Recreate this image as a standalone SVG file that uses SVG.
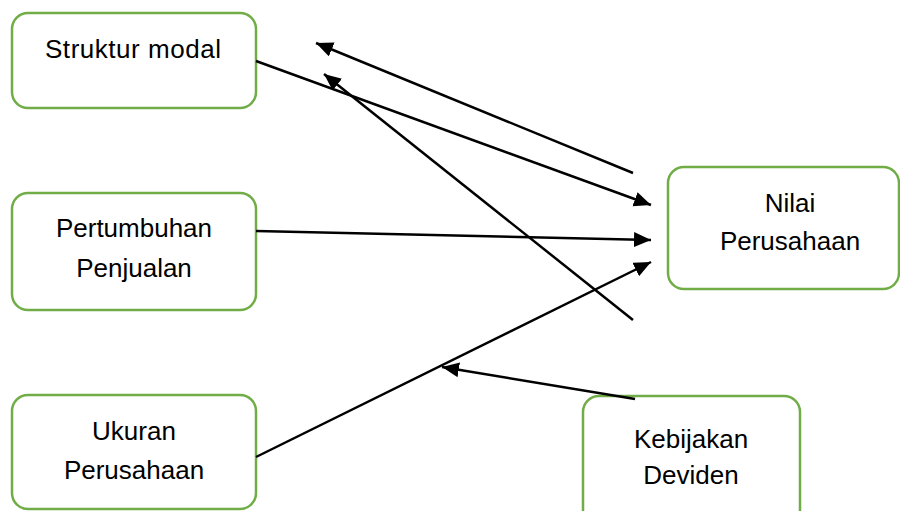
<svg xmlns="http://www.w3.org/2000/svg" width="900" height="511" viewBox="0 0 900 511">
<style>
.box{fill:#fff;stroke:#70AD47;stroke-width:2.5}
.t{font-family:"Liberation Sans",Arial,sans-serif;font-size:26px;fill:#000;text-anchor:middle}
.c{stroke:#000;stroke-width:2.5;fill:none;marker-end:url(#ah)}
</style>
<defs>
<marker id="ah" markerUnits="userSpaceOnUse" markerWidth="18" markerHeight="16" refX="17" refY="7.5" orient="auto">
<path d="M0,0 L17,7.5 L0,15 z" fill="#000"/>
</marker>
</defs>
<rect width="900" height="511" fill="#fff"/>
<g id="n-struktur"><rect class="box" x="12" y="13" width="244" height="95" rx="16"/><text class="t" x="133" y="58" textLength="176" lengthAdjust="spacing">Struktur modal</text></g>
<g id="n-pertumbuhan"><rect class="box" x="12" y="193" width="244" height="117" rx="16"/><text class="t" x="134" y="237">Pertumbuhan</text><text class="t" x="134" y="277">Penjualan</text></g>
<g id="n-ukuran"><rect class="box" x="12" y="395" width="244" height="114" rx="16"/><text class="t" x="134" y="440">Ukuran</text><text class="t" x="134" y="479">Perusahaan</text></g>
<g id="n-nilai"><rect class="box" x="668" y="167" width="231" height="122" rx="16"/><text class="t" x="790" y="212">Nilai</text><text class="t" x="790" y="250">Perusahaan</text></g>
<g id="n-kebijakan"><rect class="box" x="583" y="396" width="217" height="130" rx="16"/><text class="t" x="691" y="448">Kebijakan</text><text class="t" x="691" y="484">Deviden</text></g>
<g id="connectors">
<line class="c" x1="256" y1="61" x2="651" y2="205"/>
<line class="c" x1="633" y1="173" x2="316" y2="43"/>
<line class="c" x1="633" y1="320" x2="324" y2="74"/>
<line class="c" x1="256" y1="231" x2="651" y2="240"/>
<line class="c" x1="256" y1="457" x2="651" y2="262"/>
<line class="c" x1="635" y1="399" x2="442" y2="367"/>
</g>
</svg>
